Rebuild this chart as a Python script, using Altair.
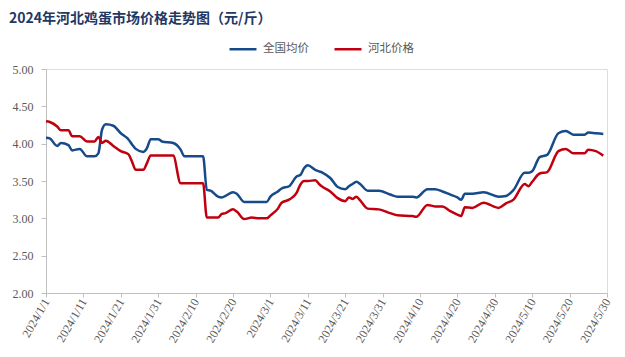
import altair as alt
import pandas as pd

dates = ["2024-01-01","2024-01-02","2024-01-04","2024-01-05","2024-01-07","2024-01-08","2024-01-10",
         "2024-01-12","2024-01-14","2024-01-15","2024-01-16","2024-01-17","2024-01-19","2024-01-21",
         "2024-01-23","2024-01-24","2024-01-25","2024-01-27","2024-01-28","2024-01-29","2024-01-31",
         "2024-02-01","2024-02-04","2024-02-06","2024-02-07","2024-02-12","2024-02-13","2024-02-14",
         "2024-02-16","2024-02-17","2024-02-18","2024-02-20","2024-02-21","2024-02-23","2024-02-25",
         "2024-02-27","2024-02-29","2024-03-01","2024-03-03","2024-03-04","2024-03-06","2024-03-08",
         "2024-03-09","2024-03-10","2024-03-11","2024-03-13","2024-03-14","2024-03-15","2024-03-17",
         "2024-03-19","2024-03-21","2024-03-22","2024-03-23","2024-03-24","2024-03-25","2024-03-27",
         "2024-03-30","2024-04-02","2024-04-04","2024-04-08","2024-04-09","2024-04-12","2024-04-14",
         "2024-04-16","2024-04-18","2024-04-20","2024-04-21","2024-04-22","2024-04-24","2024-04-27",
         "2024-05-01","2024-05-03","2024-05-05","2024-05-08","2024-05-09","2024-05-10","2024-05-12",
         "2024-05-14","2024-05-17","2024-05-19","2024-05-21","2024-05-24","2024-05-25","2024-05-27",
         "2024-05-29"]

national = [4.08,4.07,3.97,4.01,3.98,3.91,3.93,
            3.83,3.83,3.87,4.19,4.26,4.24,4.14,
            4.06,3.99,3.93,3.89,3.94,4.06,4.06,
            4.03,4.01,3.92,3.83,3.83,3.38,3.37,
            3.29,3.28,3.30,3.35,3.33,3.22,3.22,
            3.22,3.22,3.29,3.36,3.40,3.43,3.56,
            3.58,3.67,3.71,3.65,3.63,3.61,3.54,
            3.42,3.39,3.43,3.46,3.49,3.46,3.37,
            3.37,3.32,3.29,3.29,3.28,3.39,3.39,
            3.36,3.32,3.28,3.25,3.33,3.33,3.35,
            3.29,3.30,3.38,3.61,3.61,3.63,3.82,
            3.85,4.14,4.17,4.12,4.12,4.15,4.14,
            4.13]

hebei = [4.30,4.29,4.23,4.18,4.18,4.10,4.10,
         4.03,4.03,4.09,4.01,4.04,3.97,3.90,
         3.86,3.76,3.65,3.65,3.74,3.84,3.84,
         3.84,3.84,3.47,3.47,3.47,3.01,3.01,
         3.01,3.06,3.07,3.12,3.09,2.99,3.01,
         3.00,3.00,3.04,3.13,3.21,3.25,3.34,
         3.45,3.50,3.50,3.51,3.46,3.42,3.36,
         3.27,3.23,3.28,3.26,3.29,3.24,3.13,
         3.12,3.07,3.04,3.03,3.02,3.18,3.16,
         3.16,3.10,3.05,3.03,3.15,3.14,3.21,
         3.14,3.20,3.25,3.46,3.43,3.49,3.60,
         3.62,3.90,3.93,3.87,3.87,3.92,3.90,
         3.84]

series_names = ["全国均价", "河北价格"]
series_colors = ["#174a8b", "#c0000f"]
tick_dates = ["2024-01-01","2024-01-11","2024-01-21","2024-01-31","2024-02-10","2024-02-20",
              "2024-03-01","2024-03-11","2024-03-21","2024-03-31","2024-04-10","2024-04-20",
              "2024-04-30","2024-05-10","2024-05-20","2024-05-30"]
y_ticks = [2.0, 2.5, 3.0, 3.5, 4.0, 4.5, 5.0]

df = pd.DataFrame({"date": dates, series_names[0]: national, series_names[1]: hebei})
long = df.melt("date", var_name="series", value_name="price")

tick_ms = [int(pd.Timestamp(d, tz="UTC").value // 10**6) for d in tick_dates]
dom = [tick_ms[0], tick_ms[-1]]

axis_gray = "#bfbfbf"
label_gray = "#595959"

chart = alt.Chart(long).mark_line(strokeWidth=2.5, interpolate="monotone").encode(
    x=alt.X("date:T", scale=alt.Scale(type="utc", domain=dom),
            axis=alt.Axis(values=tick_ms, labelExpr="utcFormat(datum.value, '%Y/%-m/%-d')",
                          labelAngle=300, labelAlign="right", labelBaseline="middle",
                          labelFont="Liberation Serif", labelFontSize=12, labelColor=label_gray,
                          domainColor=axis_gray, tickColor=axis_gray, tickSize=4, labelPadding=2,
                          grid=False, title=None)),
    y=alt.Y("price:Q", scale=alt.Scale(domain=[2, 5], nice=False, zero=False),
            axis=alt.Axis(values=y_ticks, format=".2f", labelFont="Liberation Serif",
                          labelFontSize=12, labelColor=label_gray, domainColor=axis_gray,
                          tickColor=axis_gray, tickSize=5, labelPadding=8, grid=False, title=None)),
    color=alt.Color("series:N", scale=alt.Scale(domain=series_names, range=series_colors),
                    sort=series_names,
                    legend=alt.Legend(title=None, orient="none", direction="horizontal",
                                      legendX=182, legendY=-35, symbolType="stroke",
                                      symbolSize=729, symbolStrokeWidth=2.5, labelFontSize=11.5,
                                      labelColor=label_gray, labelFont="Noto Sans CJK SC",
                                      columnPadding=20, labelOffset=5)),
).properties(
    width=561, height=224,
    title=alt.TitleParams("2024年河北鸡蛋市场价格走势图（元/斤）", anchor="start", dx=-3,
                          fontSize=14, fontWeight="bold", color="#1f3864",
                          font="Noto Sans CJK SC", offset=8),
    autosize=alt.AutoSizeParams(type="none"),
    padding={"left": 46, "top": 69, "right": 18, "bottom": 64},
).configure_view(stroke=None).configure(background="white")

chart.save("out.html", embed_options={"renderer": "svg", "actions": False})
